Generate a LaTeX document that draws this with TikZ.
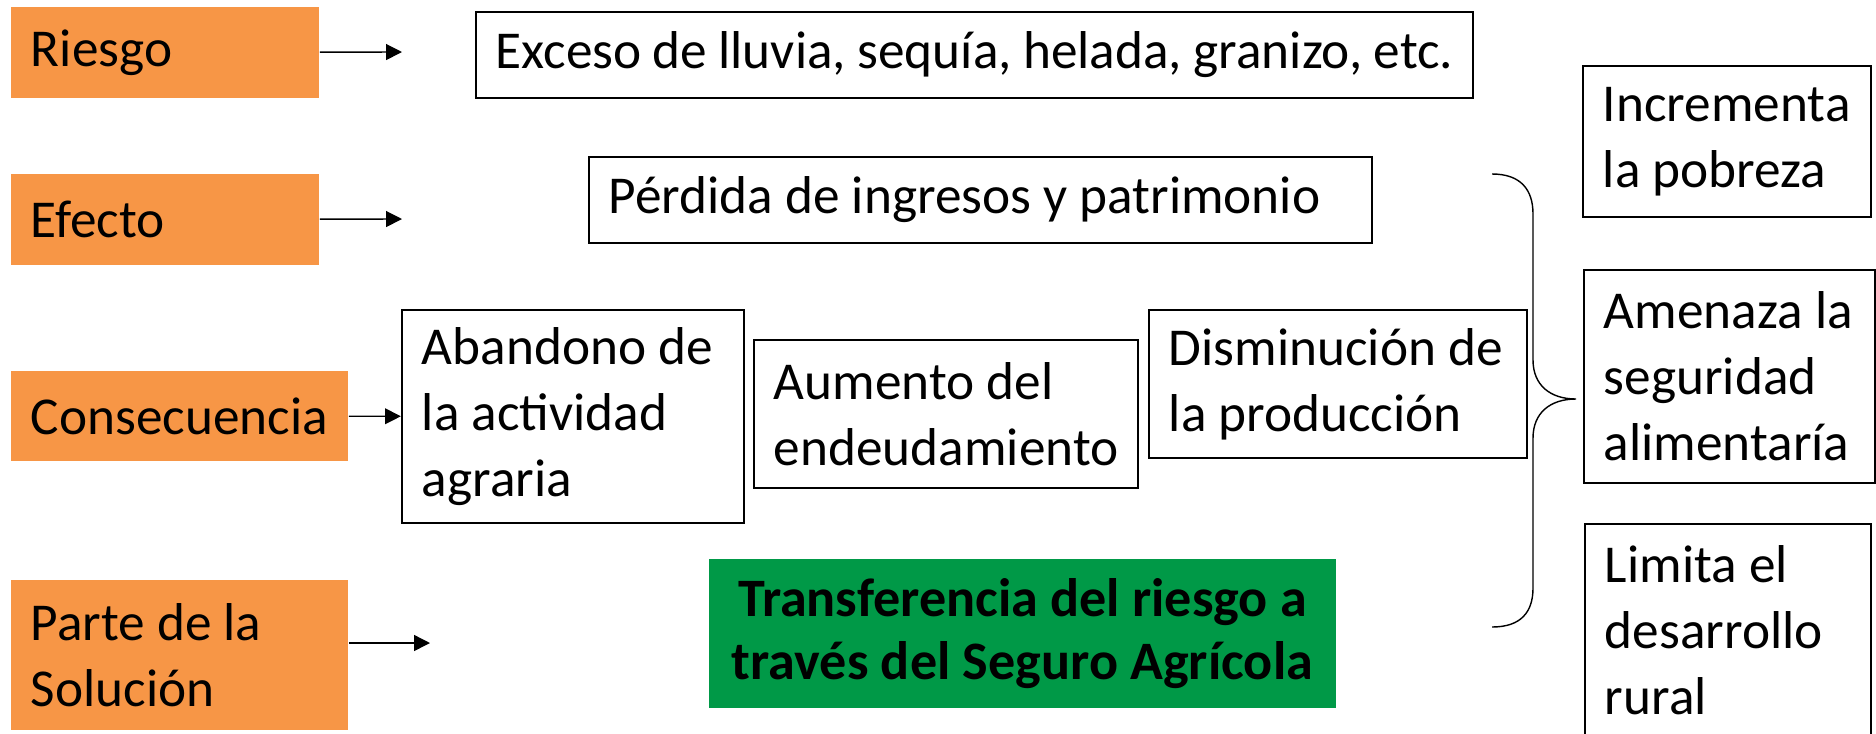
\documentclass[tikz,border=0pt]{standalone}
\usepackage{fontspec}
\setmainfont{Carlito}
\usepackage{xcolor}
\usepackage{tikz}
\usetikzlibrary{arrows.meta}

\definecolor{catorange}{RGB}{247,150,70}
\definecolor{solgreen}{RGB}{0,153,71}

\begin{document}
\begin{tikzpicture}[x=0.01cm, y=-0.01cm,
        font=\fontsize{15.15pt}{18.8pt}\selectfont,
        cat/.style={fill=catorange, rectangle, inner xsep=0.2cm, inner ysep=0pt, align=flush left},
        item/.style={draw, line width=0.6pt, rectangle, inner xsep=0.2cm, inner ysep=0pt, align=flush left},
        arr/.style={line width=0.4pt, -{Triangle[length=4.5pt, width=4.5pt]}}]
        \useasboundingbox (0,0) rectangle (1876,733);

        % Define the row labels as orange bars
        \node[cat, minimum width=3.08cm, minimum height=0.91cm, text width=2.68cm] (R) at (165,52.5) {Riesgo};
        \node[cat, minimum width=3.08cm, minimum height=0.91cm, text width=2.68cm] (E) at (165,219.5) {Efecto};
        \node[cat, minimum width=3.37cm, minimum height=0.90cm, text width=2.97cm] (C) at (179.5,416) {Consecuencia};
        \node[cat, minimum width=3.37cm, minimum height=1.50cm, text width=2.97cm] (P) at (179.5,655) {Parte de la\\Solución};

        % Define the boxes of each row
        \node[item, minimum width=9.97cm, minimum height=0.86cm, text width=9.57cm] (R1) at (974.5,55) {Exceso de lluvia, sequía, helada, granizo, etc.};
        \node[item, minimum width=7.83cm, minimum height=0.86cm, text width=7.43cm] (E1) at (980.5,200) {Pérdida de ingresos y patrimonio};
        \node[item, minimum width=3.42cm, minimum height=2.13cm, text width=3.02cm] (C1) at (573,416.5) {Abandono de\\la actividad\\agraria};
        \node[item, minimum width=3.84cm, minimum height=1.48cm, text width=3.44cm] (C2) at (946,414) {Aumento del\\endeudamiento};
        \node[item, minimum width=3.78cm, minimum height=1.48cm, text width=3.38cm] (C3) at (1338,384) {Disminución de\\la producción};
        \node[fill=solgreen, rectangle, minimum width=6.27cm, minimum height=1.49cm, align=center, font=\fontsize{15.4pt}{17.9pt}\selectfont\bfseries] (P1) at (1022.5,633.5) {Transferencia del riesgo a\\través del Seguro Agrícola};

        % Define the outcome boxes on the right
        \node[item, minimum width=2.88cm, minimum height=1.51cm, text width=2.48cm] (O1) at (1727,141.5) {Incrementa\\la pobreza};
        \node[item, minimum width=2.91cm, minimum height=2.13cm, text width=2.51cm] (O2) at (1729.5,376.5) {Amenaza la\\seguridad\\alimentaría};
        \node[item, minimum width=2.86cm, minimum height=2.13cm, text width=2.46cm] (O3) at (1728,630.5) {Limita el\\desarrollo\\rural};

        % Define arrow ends
        \coordinate (Ra) at (402,52);
        \coordinate (Ea) at (402,219);
        \coordinate (Pa) at (430,643);

        \draw[arr] (R) -- (Ra);
        \draw[arr] (E) -- (Ea);
        \draw[arr] (C) -- (C1);
        \draw[arr] (P.east |- Pa) -- (Pa);

        % Define the brace
        \draw[line width=0.4pt] (1492,174) .. controls (1521,174) and (1533,190) .. (1533,214)
            -- (1533,360) .. controls (1533,385) and (1550,399) .. (1576,399)
            .. controls (1550,399) and (1533,413) .. (1533,438)
            -- (1533,588) .. controls (1533,612) and (1521,627) .. (1492,627);
    \end{tikzpicture}
\end{document}
